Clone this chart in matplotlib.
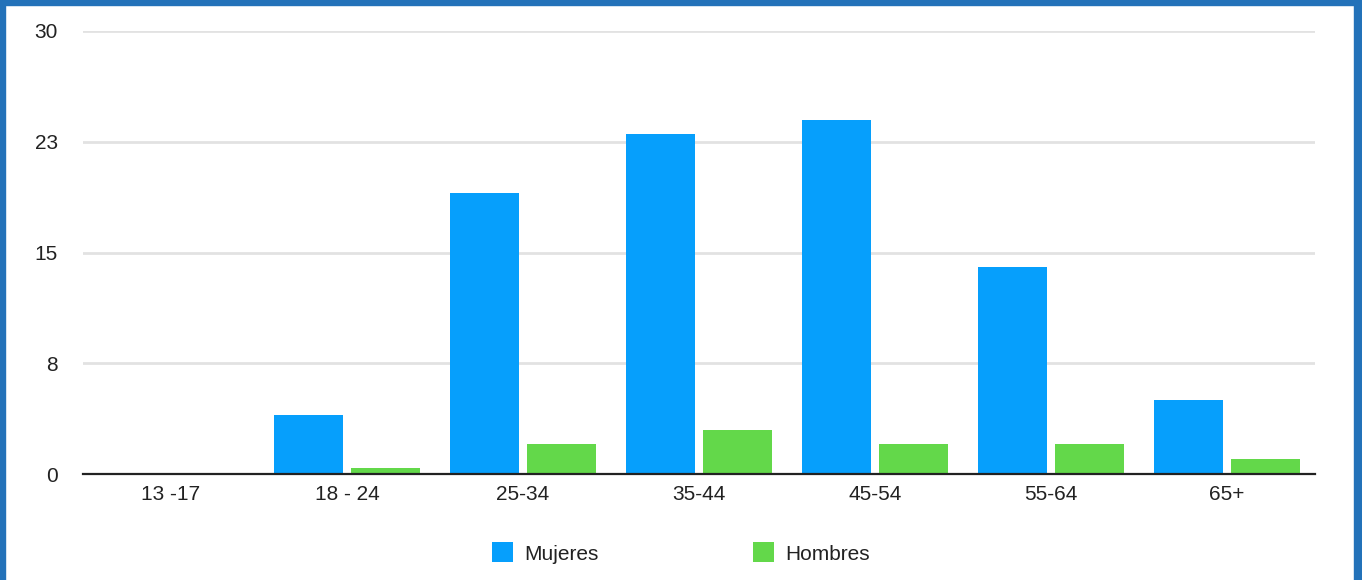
import matplotlib.pyplot as plt
from matplotlib.patches import Rectangle
import numpy as np

plt.rcParams['font.family'] = ['Liberation Sans', 'DejaVu Sans']

categorias = ['13 -17', '18 - 24', '25-34', '35-44', '45-54', '55-64', '65+']
mujeres = [0, 4, 19, 23, 24, 14, 5]
hombres = [0, 0.4, 2, 3, 2, 2, 1]
y_ticks = [0, 7.5, 15, 22.5, 30]
y_labels = ['0', '8', '15', '23', '30']

azul = '#069ffc'
verde = '#63d84a'
texto = '#222222'

W, H = 1362, 580
fig = plt.figure(figsize=(W / 100, H / 100), dpi=100)
ax = fig.add_axes([83 / W, 1 - 474 / H, (1315 - 83) / W, (474 - 31) / H])

x = np.arange(len(categorias))
ancho = 0.395
hueco = 0.02
ax.bar(x - hueco - ancho / 2, mujeres, width=ancho, color=azul, label='Mujeres')
ax.bar(x + hueco + ancho / 2, hombres, width=ancho, color=verde, label='Hombres')

ax.set_xlim(-0.5, len(categorias) - 0.5)
ax.set_ylim(0, 30)
ax.set_yticks(y_ticks)
ax.set_yticklabels(y_labels)
ax.set_xticks(x)
ax.set_xticklabels(categorias)
ax.tick_params(axis='y', length=0, pad=18, labelsize=15, colors=texto)
ax.tick_params(axis='x', length=0, pad=8, labelsize=15, colors=texto)

ax.grid(axis='y', color='#e2e2e2', linewidth=2)
ax.set_axisbelow(True)
for s in ['top', 'right', 'left']:
    ax.spines[s].set_visible(False)
ax.spines['bottom'].set_color('#222222')
ax.spines['bottom'].set_linewidth(1.6)
ax.spines['bottom'].set_zorder(5)

fig.legend(loc='center', bbox_to_anchor=(0.5, 1 - 553 / H), ncol=2, frameon=False,
           fontsize=15, handlelength=1.0, handleheight=1.1, handletextpad=0.55,
           columnspacing=7.4, labelcolor=texto)

# marco azul
borde = '#2372b9'
fig.add_artist(Rectangle((0, 0), 5 / W, 1, transform=fig.transFigure, color=borde))
fig.add_artist(Rectangle((0, 1 - 5 / H), 1, 5 / H, transform=fig.transFigure, color=borde))
fig.add_artist(Rectangle((1 - 8 / W, 0), 8 / W, 1, transform=fig.transFigure, color=borde))

fig.savefig('out.png', dpi=100)
